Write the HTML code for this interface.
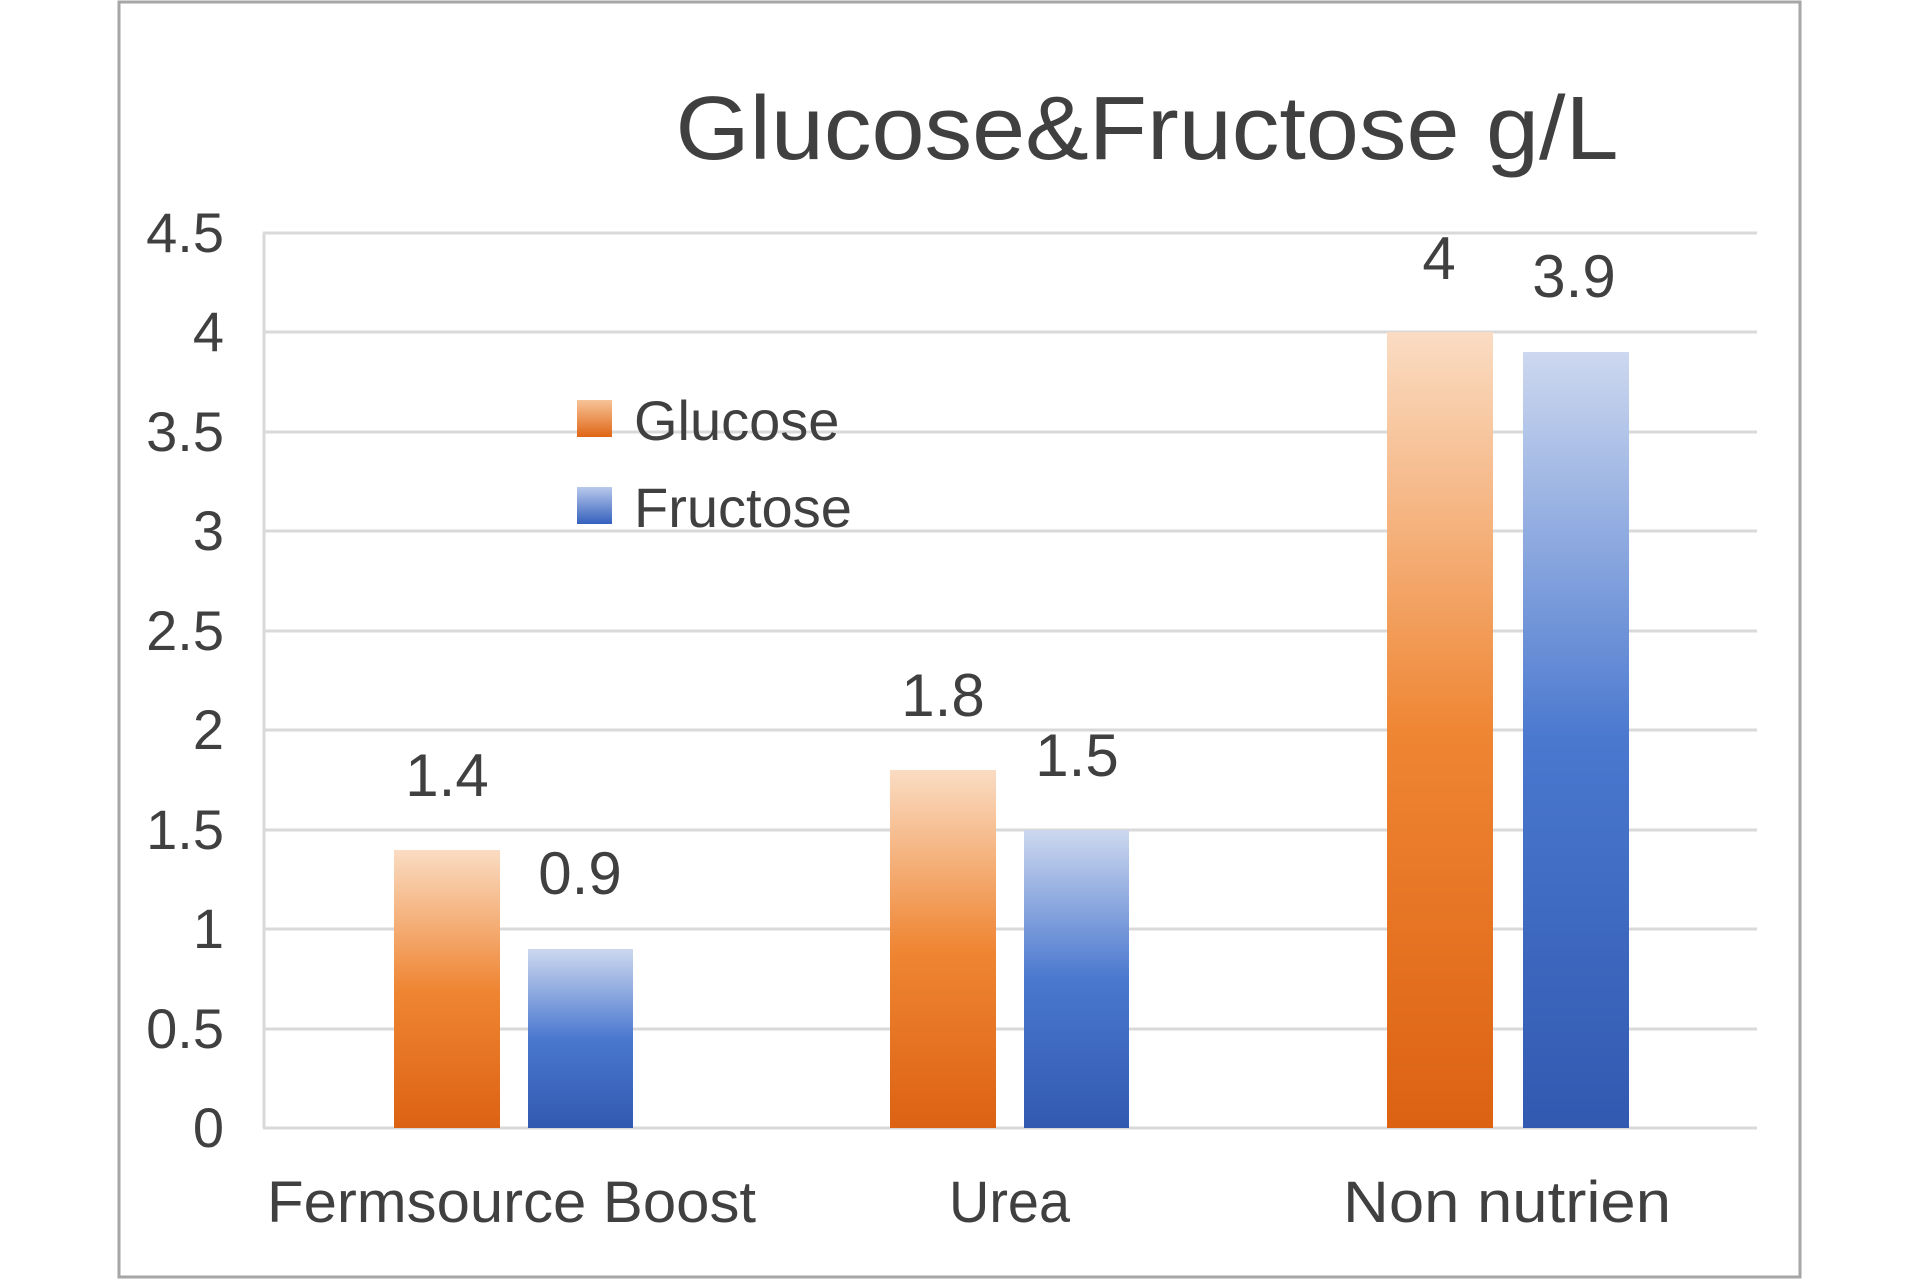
<!DOCTYPE html>
<html><head><meta charset="utf-8"><style>html,body{margin:0;padding:0;background:#fff}</style></head>
<body>
<svg width="1920" height="1280" viewBox="0 0 1920 1280" xmlns="http://www.w3.org/2000/svg" font-family="Liberation Sans, sans-serif">
<defs>
<linearGradient id="o" x1="0" y1="0" x2="0" y2="1"><stop offset="0" stop-color="#fadcc3"/><stop offset="0.5" stop-color="#ef8634"/><stop offset="1" stop-color="#dc6212"/></linearGradient>
<linearGradient id="b" x1="0" y1="0" x2="0" y2="1"><stop offset="0" stop-color="#cdd8ef"/><stop offset="0.5" stop-color="#4a78cf"/><stop offset="1" stop-color="#3259b0"/></linearGradient>
<linearGradient id="ol" x1="0" y1="0" x2="0" y2="1"><stop offset="0" stop-color="#f7c49a"/><stop offset="1" stop-color="#df6514"/></linearGradient>
<linearGradient id="bl" x1="0" y1="0" x2="0" y2="1"><stop offset="0" stop-color="#b9c9ec"/><stop offset="1" stop-color="#3460bd"/></linearGradient>
</defs>
<rect x="119" y="2" width="1681" height="1275" fill="#fff" stroke="#a6a6a6" stroke-width="3"/>
<text x="1147" y="159" font-size="90" fill="#404040" text-anchor="middle" textLength="943" lengthAdjust="spacingAndGlyphs">Glucose&amp;Fructose g/L</text>
<g stroke="#d9d9d9" stroke-width="3">
<line x1="263" y1="233" x2="1757" y2="233"/>
<line x1="263" y1="332" x2="1757" y2="332"/>
<line x1="263" y1="432" x2="1757" y2="432"/>
<line x1="263" y1="531" x2="1757" y2="531"/>
<line x1="263" y1="631" x2="1757" y2="631"/>
<line x1="263" y1="730" x2="1757" y2="730"/>
<line x1="263" y1="830" x2="1757" y2="830"/>
<line x1="263" y1="929" x2="1757" y2="929"/>
<line x1="263" y1="1029" x2="1757" y2="1029"/>
<line x1="263" y1="1128" x2="1757" y2="1128"/>
<line x1="264" y1="233" x2="264" y2="1128"/>
</g>
<g font-size="56" fill="#404040" text-anchor="end">
<text x="224" y="252">4.5</text><text x="224" y="351">4</text><text x="224" y="451">3.5</text>
<text x="224" y="550">3</text><text x="224" y="650">2.5</text><text x="224" y="749">2</text>
<text x="224" y="849">1.5</text><text x="224" y="948">1</text><text x="224" y="1048">0.5</text><text x="224" y="1147">0</text>
</g>
<rect x="394" y="850" width="106" height="278" fill="url(#o)"/>
<rect x="528" y="949" width="105" height="179" fill="url(#b)"/>
<rect x="890" y="770" width="106" height="358" fill="url(#o)"/>
<rect x="1024" y="830" width="105" height="298" fill="url(#b)"/>
<rect x="1387" y="332" width="106" height="796" fill="url(#o)"/>
<rect x="1523" y="352" width="106" height="776" fill="url(#b)"/>
<g font-size="60" fill="#404040" text-anchor="middle">
<text x="447" y="796">1.4</text><text x="580" y="894">0.9</text>
<text x="943" y="716">1.8</text><text x="1077" y="776">1.5</text>
<text x="1439" y="279">4</text><text x="1574" y="297">3.9</text>
</g>
<g font-size="58" fill="#404040">
<text x="267" y="1222" textLength="489" lengthAdjust="spacingAndGlyphs">Fermsource Boost</text>
<text x="949" y="1222" textLength="121" lengthAdjust="spacingAndGlyphs">Urea</text>
<text x="1343" y="1222" textLength="328" lengthAdjust="spacingAndGlyphs">Non nutrien</text>
</g>
<rect x="577" y="400" width="35" height="37" fill="url(#ol)"/>
<rect x="577" y="487" width="35" height="37" fill="url(#bl)"/>
<g font-size="56" fill="#404040">
<text x="634" y="440">Glucose</text>
<text x="634" y="527">Fructose</text>
</g>
</svg>
</body></html>
